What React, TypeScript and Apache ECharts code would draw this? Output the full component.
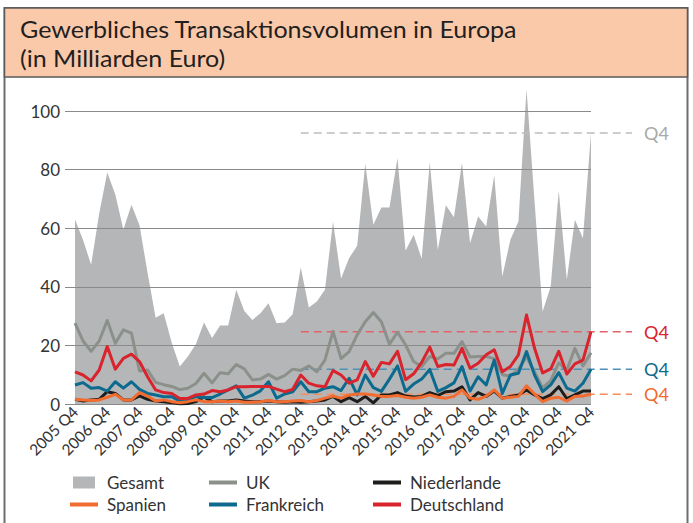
import React, { useEffect, useRef } from "react";
import * as echarts from "echarts";

const categories = [
  "2005 Q4",
  "2006 Q1", "2006 Q2", "2006 Q3", "2006 Q4",
  "2007 Q1", "2007 Q2", "2007 Q3", "2007 Q4",
  "2008 Q1", "2008 Q2", "2008 Q3", "2008 Q4",
  "2009 Q1", "2009 Q2", "2009 Q3", "2009 Q4",
  "2010 Q1", "2010 Q2", "2010 Q3", "2010 Q4",
  "2011 Q1", "2011 Q2", "2011 Q3", "2011 Q4",
  "2012 Q1", "2012 Q2", "2012 Q3", "2012 Q4",
  "2013 Q1", "2013 Q2", "2013 Q3", "2013 Q4",
  "2014 Q1", "2014 Q2", "2014 Q3", "2014 Q4",
  "2015 Q1", "2015 Q2", "2015 Q3", "2015 Q4",
  "2016 Q1", "2016 Q2", "2016 Q3", "2016 Q4",
  "2017 Q1", "2017 Q2", "2017 Q3", "2017 Q4",
  "2018 Q1", "2018 Q2", "2018 Q3", "2018 Q4",
  "2019 Q1", "2019 Q2", "2019 Q3", "2019 Q4",
  "2020 Q1", "2020 Q2", "2020 Q3", "2020 Q4",
  "2021 Q1", "2021 Q2", "2021 Q3", "2021 Q4",
];

const gesamt = [
  63, 56, 47.5, 65, 79, 71.5, 59.5, 68, 61, 44.8,
  29.4, 31, 20.9, 12.8, 16.2, 20.5, 27.8, 22.5, 26.8, 26.8,
  39, 31.7, 28.7, 31, 34.4, 27.6, 27.8, 30.6, 46.6, 32.9,
  35, 39, 62.3, 42.8, 49.8, 54, 82, 61.2, 67.1, 67.1,
  84, 52.3, 57.8, 49.6, 82.5, 52.6, 67.8, 63.7, 82.3, 54.9,
  64, 60.6, 78.1, 43.5, 56.1, 62.3, 107.4, 69, 31.6, 40.1,
  72.8, 42.4, 62.9, 56.6, 92.5,
];

const uk = [
  27.6, 21.5, 18, 21.5, 28.5, 20.7, 25.3, 24.2, 11.3, 11.6,
  7.4, 6.6, 6, 4.9, 5.4, 7, 10.5, 7.2, 10.7, 10.3,
  13.5, 12, 8.2, 8.5, 10.1, 8.5, 9.7, 11.9, 11.4, 13,
  11, 15, 24.8, 15.5, 17.9, 23.6, 28.1, 31.2, 28.1, 20.4,
  24.5, 20.2, 14.5, 12.8, 16.2, 15.4, 17.3, 17.3, 21.3, 16,
  16.2, 16.2, 15.5, 10, 9.5, 12, 16, 11, 5.5, 8,
  14, 11.5, 19, 13, 17.5,
];

const niederlande = [
  1.6, 1.0, 1.4, 1.6, 4.2, 3.6, 1.4, 1.4, 2.8, 1.6,
  1.0, 0.8, 0.4, 0.1, 0.2, 0.8, 2.4, 0.8, 1.0, 1.0,
  1.4, 1.0, 0.8, 0.8, 1.0, 0.8, 0.6, 0.8, 0.6, 0.8,
  1.0, 1.4, 2.6, 0.8, 2.2, 0.8, 2.6, 0.4, 3.1, 3.1,
  3.9, 2.7, 2.4, 2.6, 3.9, 2.9, 4.2, 4.4, 5.9, 1.4,
  3.9, 2.6, 4.4, 2.0, 2.6, 3.1, 4.8, 3.1, 1.8, 3.1,
  5.9, 1.8, 3.1, 4.4, 4.4,
];

const spanien = [
  1.6, 1.4, 1.2, 1.4, 2.3, 3.3, 1.4, 1.4, 3.9, 2.7,
  1.0, 1.4, 0.8, 0.4, 0.8, 1.4, 0.8, 0.8, 1.0, 0.8,
  1.0, 0.6, 0.6, 0.8, 1.2, 0.8, 0.8, 1.0, 1.2, 0.8,
  1.2, 2.0, 2.7, 2.0, 3.1, 3.4, 3.4, 3.1, 2.6, 2.6,
  2.9, 2.3, 2.0, 2.3, 3.1, 2.3, 2.0, 2.6, 4.8, 2.0,
  1.6, 2.7, 4.8, 2.0, 2.3, 2.6, 6.2, 3.4, 0.8, 2.0,
  2.3, 1.0, 2.6, 2.7, 3.3,
];

const frankreich = [
  6.5, 7.3, 5.4, 5.6, 4.4, 7.6, 5.4, 7.6, 5, 3.6,
  3.1, 2.5, 2.5, 1, 1.6, 2.5, 2.2, 2.2, 3.4, 4.8,
  6.2, 2, 3, 4.5, 7.6, 2, 3.4, 4.2, 7.6, 4.2,
  4.2, 5.4, 5.9, 4.6, 8.8, 3.1, 9.9, 5.6, 4.3, 8.5,
  13, 4.3, 6.8, 8.5, 11.8, 4.3, 5.6, 7.2, 12.8, 4.4,
  9.3, 6.5, 15, 3.6, 9.9, 10.5, 17.9, 9.9, 4.2, 6.5,
  10.7, 5.4, 4.4, 7.1, 11.9,
];

const deutschland = [
  11, 9.9, 7.9, 11.6, 19.6, 11.9, 15.6, 17, 14.5, 9.3,
  4.8, 3.9, 3.6, 1.9, 1.9, 3.1, 3.4, 4.6, 4.2, 4.8,
  5.9, 5.9, 6, 6, 6, 5.1, 4.2, 5, 9.9, 7.1,
  6.2, 5.9, 11.4, 9.9, 7.1, 8.2, 14.5, 9.5, 14.2, 13.7,
  18, 8.3, 10.3, 14.2, 19.4, 12.8, 13.5, 13.3, 19, 12.2,
  13.9, 16.8, 18.5, 11, 12.8, 16.8, 30.4, 19, 10.6, 12,
  18, 10.2, 13.7, 15, 24.7,
];

const yTicks = [0, 20, 40, 60, 80, 100];
const refStart = "2012 Q4";
const refLabel = "Q4";
const titleLines = ["Gewerbliches Transaktionsvolumen in Europa", "(in Milliarden Euro)"];

const FONT = "Lato, 'Open Sans', sans-serif";
const C_AREA = "#b5b6b8";
const C_UK = "#8b918a";
const C_NL = "#1d1d1b";
const C_ES = "#f26b2f";
const C_FR = "#0c6a8e";
const C_DE = "#d9232d";
const LINE_ICON = "path://M0,0H28V4H0Z";

export default function App() {
  const ref = useRef<HTMLDivElement>(null);

  useEffect(() => {
    const chart = echarts.init(ref.current!, null, { renderer: "svg" });
    const lineSeries = (name: string, data: number[], color: string, z: number) => ({
      name,
      type: "line",
      xAxisIndex: 1,
      yAxisIndex: 1,
      data,
      symbol: "none",
      clip: false,
      z,
      itemStyle: { color },
      lineStyle: { color, width: 3, join: "round" },
    });

    const legendCommon = {
      orient: "vertical",
      top: 474,
      itemWidth: 28,
      itemHeight: 12,
      itemGap: 5,
      padding: 0,
      selectedMode: false,
      textStyle: {
        fontFamily: FONT,
        fontSize: 17,
        color: "#333",
        lineHeight: 17,
        padding: [0, 0, 0, 4],
      },
    };

    chart.setOption({
      animation: false,
      textStyle: { fontFamily: FONT },
      grid: [
        { left: 65, right: 102, top: 111, bottom: 119 },
        { left: 75, right: 102, top: 111, bottom: 119 },
      ],
      xAxis: [
        { type: "value", gridIndex: 0, show: false, min: 0, max: 1 },
        {
          type: "category",
          gridIndex: 1,
          data: categories,
          boundaryGap: false,
          axisLine: { show: false },
          axisTick: { show: false },
          splitLine: { show: false },
          axisLabel: {
            interval: (i: number) => i % 4 === 0,
            rotate: 45,
            margin: 5,
            fontSize: 15.5,
            color: "#333",
            fontFamily: FONT,
          },
        },
      ],
      yAxis: [
        {
          type: "value",
          gridIndex: 0,
          min: yTicks[0],
          max: yTicks[yTicks.length - 1],
          interval: yTicks[1] - yTicks[0],
          z: 3,
          axisLine: { show: false },
          axisTick: { show: false },
          axisLabel: { fontSize: 17, color: "#333", margin: 5, fontFamily: FONT },
          splitLine: { lineStyle: { color: "#8a8a8a", width: 1 } },
        },
        {
          type: "value",
          gridIndex: 1,
          min: yTicks[0],
          max: yTicks[yTicks.length - 1],
          show: false,
          splitLine: { show: false },
        },
      ],
      legend: [
        {
          ...legendCommon,
          left: 70,
          data: [
            { name: "Gesamt", icon: "path://M0,0H22V12H0Z" },
            { name: "Spanien", icon: LINE_ICON },
          ],
        },
        {
          ...legendCommon,
          left: 209,
          data: [
            { name: "UK", icon: LINE_ICON },
            { name: "Frankreich", icon: LINE_ICON },
          ],
        },
        {
          ...legendCommon,
          left: 373,
          data: [
            { name: "Niederlande", icon: LINE_ICON },
            { name: "Deutschland", icon: LINE_ICON },
          ],
        },
      ],
      series: [
        {
          name: "Gesamt",
          type: "line",
          xAxisIndex: 1,
          yAxisIndex: 1,
          data: gesamt,
          symbol: "none",
          clip: false,
          z: 2,
          itemStyle: { color: C_AREA },
          lineStyle: { width: 0, color: C_AREA },
          areaStyle: { color: C_AREA, opacity: 1 },
        },
        lineSeries("UK", uk, C_UK, 5),
        lineSeries("Niederlande", niederlande, C_NL, 6),
        lineSeries("Frankreich", frankreich, C_FR, 7),
        lineSeries("Deutschland", deutschland, C_DE, 8),
        lineSeries("Spanien", spanien, C_ES, 9),
      ],
    });

    const x0 = chart.convertToPixel({ xAxisIndex: 1 }, refStart) as number;
    const refs = [
      { v: gesamt[gesamt.length - 1], line: "#bdbdbd", text: "#a9a9a9" },
      { v: deutschland[deutschland.length - 1], line: "#e2646b", text: C_DE },
      { v: frankreich[frankreich.length - 1], line: "#4b92b5", text: C_FR },
      { v: spanien[spanien.length - 1], line: "#f58c5a", text: C_ES },
    ];
    const refGraphics: any[] = [];
    refs.forEach((r) => {
      const y = chart.convertToPixel({ yAxisIndex: 1 }, r.v) as number;
      refGraphics.push({
        type: "line",
        z: 4,
        shape: { x1: x0, y1: y, x2: 632, y2: y },
        style: { stroke: r.line, lineWidth: 1.5, lineDash: [8, 5] },
      });
      refGraphics.push({
        type: "text",
        z: 4,
        x: 644,
        y,
        style: {
          text: refLabel,
          fill: r.text,
          fontSize: 18,
          fontFamily: FONT,
          verticalAlign: "middle",
          align: "left",
        },
      });
    });

    const titleText = (text: string, y: number) => ({
      type: "text",
      z: 1,
      x: 20,
      y,
      scaleX: 1.08,
      style: {
        text,
        fill: "#231f20",
        fontSize: 23.2,
        fontFamily: FONT,
        verticalAlign: "middle",
      },
    });

    chart.setOption({
      graphic: [
        {
          type: "rect",
          z: 0,
          shape: { x: 4.5, y: 8, width: 683, height: 600 },
          style: { fill: "#ffffff", stroke: "#6e6e6e", lineWidth: 2 },
          silent: true,
        },
        {
          type: "rect",
          z: 1,
          shape: { x: 4.5, y: 8, width: 683, height: 69 },
          style: { fill: "#fac9aa", stroke: "#5a5a5a", lineWidth: 1.5 },
          silent: true,
        },
        titleText(titleLines[0], 29),
        titleText(titleLines[1], 57.5),
        ...refGraphics,
      ],
    });

    return () => chart.dispose();
  }, []);

  return (
    <div
      ref={ref}
      style={{ position: "fixed", left: 0, top: 0, width: 693, height: 523, background: "#fff" }}
    />
  );
}
